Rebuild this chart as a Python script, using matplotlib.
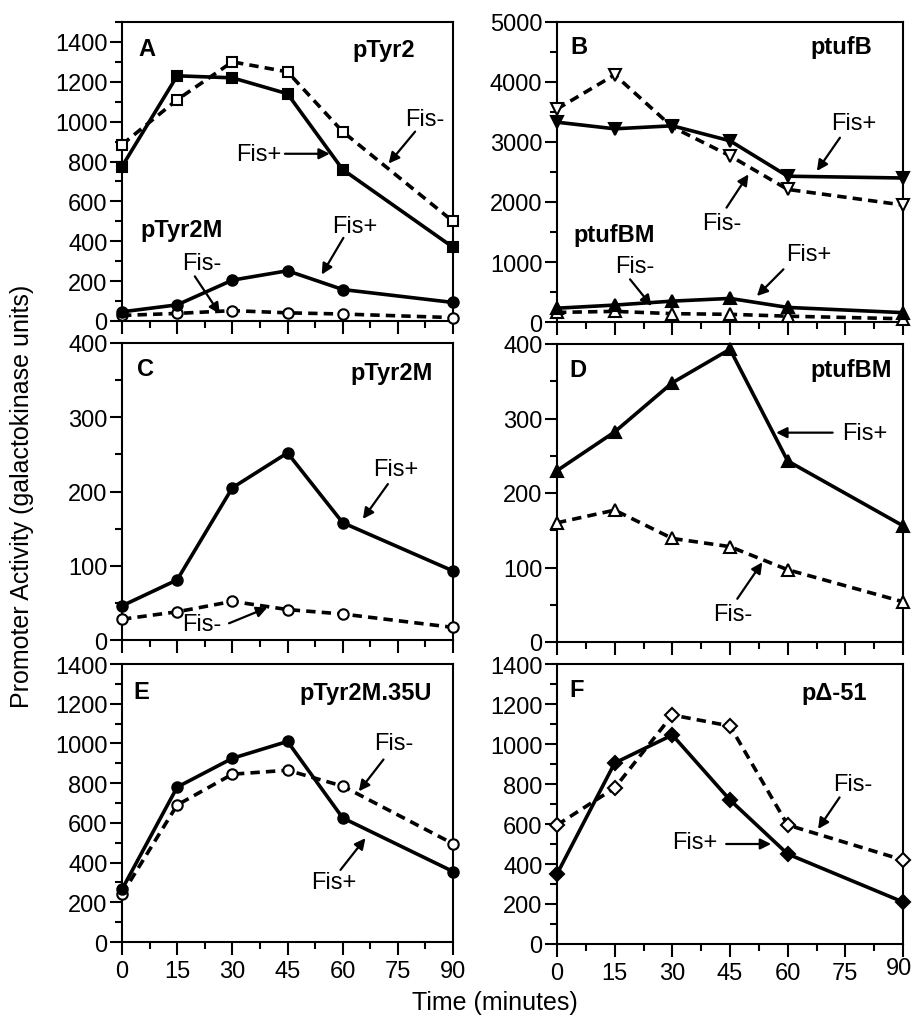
import matplotlib
matplotlib.use("Agg")
import matplotlib.pyplot as plt
from matplotlib.ticker import MultipleLocator

plt.rcParams['font.family'] = ['Liberation Sans', 'DejaVu Sans']

# ---- data ----
time_min = [0, 15, 30, 45, 60, 90]

ptyr2_fis_plus = [775, 1230, 1220, 1140, 760, 370]
ptyr2_fis_minus = [885, 1110, 1300, 1250, 950, 500]

ptyr2m_fis_plus = [46, 81, 205, 252, 158, 93]
ptyr2m_fis_minus = [28, 38, 52, 41, 35, 17]

ptufb_fis_plus = [3330, 3220, 3270, 3020, 2430, 2400]
ptufb_fis_minus = [3550, 4120, 3250, 2770, 2210, 1950]

ptufbm_fis_plus = [230, 282, 348, 393, 243, 156]
ptufbm_fis_minus = [160, 177, 139, 128, 97, 54]

ptyr2m35u_fis_plus = [265, 780, 925, 1010, 625, 355]
ptyr2m35u_fis_minus = [240, 690, 845, 865, 785, 495]

pdelta51_fis_plus = [350, 905, 1045, 720, 450, 210]
pdelta51_fis_minus = [595, 780, 1145, 1090, 595, 420]

x_ticks = [0, 15, 30, 45, 60, 75, 90]
x_tick_labels = ['0', '15', '30', '45', '60', '75', '90']

W, H = 913, 1020
fig = plt.figure(figsize=(W / 100, H / 100), dpi=100)

TICK_FS = 17
TXT_FS = 17
BOLD_FS = 17


def make_ax(x0, y0, x1, y1):
    ax = fig.add_axes([x0 / W, 1 - y1 / H, (x1 - x0) / W, (y1 - y0) / H])
    for s in ax.spines.values():
        s.set_linewidth(1.5)
    ax.set_xlim(0, 90)
    ax.set_xticks(x_ticks)
    ax.set_xticklabels(x_tick_labels)
    ax.xaxis.set_minor_locator(MultipleLocator(7.5))
    ax.tick_params(axis='both', which='major', direction='out', length=9, width=1.5,
                   labelsize=TICK_FS, pad=1.5)
    ax.tick_params(axis='both', which='minor', direction='out', length=5, width=1.5)
    ax.tick_params(axis='x', which='major', pad=4)
    ax.set_facecolor('white')
    return ax


LW = 2.6
DASH = (0, (2.6, 1.7))


def plot_pair(ax, yplus, yminus, mk, ms=7.5):
    ax.plot(time_min, yminus, linestyle=DASH, color='black', lw=LW, marker=mk,
            ms=ms, mfc='white', mec='black', mew=1.5, clip_on=False, zorder=3)
    ax.plot(time_min, yplus, linestyle='-', color='black', lw=LW, marker=mk,
            ms=ms, mfc='black', mec='black', mew=1.5, clip_on=False, zorder=4)


def arrow(ax, text, txy, tail, tip):
    ax.text(txy[0], txy[1], text, fontsize=TXT_FS, ha='center', va='center', zorder=6)
    ax.annotate('', xy=tip, xytext=tail,
                arrowprops=dict(arrowstyle='-|>', lw=1.6, color='black',
                                mutation_scale=16, shrinkA=0, shrinkB=0), zorder=6)


def labels(ax, letter, lxy, name, nxy):
    ax.text(lxy[0], lxy[1], letter, fontsize=BOLD_FS, fontweight='bold',
            ha='left', va='baseline')
    ax.text(nxy[0], nxy[1], name, fontsize=BOLD_FS, fontweight='bold',
            ha='right', va='baseline')


# ---- Panel A ----
axA = make_ax(122, 23, 453, 322)
axA.set_ylim(0, 1500)
axA.set_yticks(range(0, 1401, 200))
axA.yaxis.set_minor_locator(MultipleLocator(100))
plot_pair(axA, ptyr2_fis_plus, ptyr2_fis_minus, 's', ms=7.5)
plot_pair(axA, ptyr2m_fis_plus, ptyr2m_fis_minus, 'o', ms=7.5)
labels(axA, 'A', (4.4, 1335), 'pTyr2', (79.7, 1330))
axA.text(4.9, 426, 'pTyr2M', fontsize=BOLD_FS, fontweight='bold', ha='left', va='baseline')
arrow(axA, 'Fis-', (82.4, 1014), (79.7, 950), (72.5, 790))
arrow(axA, 'Fis+', (37.3, 839), (44.3, 839), (56.5, 839))
arrow(axA, 'Fis+', (63.3, 475), (60.2, 417), (54.3, 233))
arrow(axA, 'Fis-', (21.7, 289), (19.8, 224), (26.6, 36))
axA.tick_params(axis='x', labelbottom=False)

# ---- Panel B ----
axB = make_ax(557, 23, 903, 323)
axB.set_ylim(0, 5000)
axB.set_yticks(range(0, 5001, 1000))
axB.yaxis.set_minor_locator(MultipleLocator(500))
plot_pair(axB, ptufb_fis_plus, ptufb_fis_minus, 'v', ms=9)
plot_pair(axB, ptufbm_fis_plus, ptufbm_fis_minus, '^', ms=9)
labels(axB, 'B', (3.6, 4480), 'ptufB', (81.9, 4480))
axB.text(4.2, 1350, 'ptufBM', fontsize=BOLD_FS, fontweight='bold', ha='left', va='baseline')
arrow(axB, 'Fis+', (77.1, 3322), (73.6, 3072), (67.6, 2517))
arrow(axB, 'Fis-', (42.8, 1656), (44.1, 1906), (49.8, 2461))
arrow(axB, 'Fis-', (20.3, 933), (19.0, 711), (24.6, 267))
arrow(axB, 'Fis+', (65.4, 1128), (58.9, 878), (52.0, 433))
axB.tick_params(axis='x', labelbottom=False)

# ---- Panel C ----
axC = make_ax(122, 344, 453, 641)
axC.set_ylim(0, 400)
axC.set_yticks(range(0, 401, 100))
axC.yaxis.set_minor_locator(MultipleLocator(50))
plot_pair(axC, ptyr2m_fis_plus, ptyr2m_fis_minus, 'o', ms=7.5)
labels(axC, 'C', (4.0, 357), 'pTyr2M', (84.6, 351))
arrow(axC, 'Fis+', (74.5, 230), (72.3, 210), (65.5, 163))
arrow(axC, 'Fis-', (21.8, 21), (29.1, 22.5), (39.5, 43.6))
axC.tick_params(axis='x', labelbottom=False)

# ---- Panel D ----
axD = make_ax(557, 345, 903, 643)
axD.set_ylim(0, 400)
axD.set_yticks(range(0, 401, 100))
axD.yaxis.set_minor_locator(MultipleLocator(50))
plot_pair(axD, ptufbm_fis_plus, ptufbm_fis_minus, '^', ms=9)
labels(axD, 'D', (3.1, 357), 'ptufBM', (87.1, 357))
arrow(axD, 'Fis+', (80, 281), (71.7, 281), (57.0, 281))
arrow(axD, 'Fis-', (45.6, 38), (46.9, 58), (53.4, 107))
axD.tick_params(axis='x', labelbottom=False)

# ---- Panel E ----
axE = make_ax(122, 665, 453, 943)
axE.set_ylim(0, 1400)
axE.set_yticks(range(0, 1401, 200))
axE.yaxis.set_minor_locator(MultipleLocator(100))
plot_pair(axE, ptyr2m35u_fis_plus, ptyr2m35u_fis_minus, 'o', ms=7.5)
labels(axE, 'E', (3.0, 1229), 'pTyr2M.35U', (84.2, 1225))
arrow(axE, 'Fis-', (73.8, 1003), (71.1, 919), (64.4, 759))
arrow(axE, 'Fis+', (57.6, 304), (59.4, 363), (66.2, 523))

# ---- Panel F ----
axF = make_ax(557, 665, 903, 945)
axF.set_ylim(0, 1400)
axF.set_yticks(range(0, 1401, 200))
axF.yaxis.set_minor_locator(MultipleLocator(100))
# last tick label drawn separately so that it stays inside the figure edge
axF.set_xticklabels(x_tick_labels[:-1] + [''])
fig.text(899 / W, 1 - 958 / H, x_tick_labels[-1], ha='center', va='top', fontsize=TICK_FS)
plot_pair(axF, pdelta51_fis_plus, pdelta51_fis_minus, 'D', ms=7.5)
labels(axF, 'F', (3.1, 1242), 'p\u0394-51', (80.6, 1225))
arrow(axF, 'Fis-', (77, 800), (73.5, 733), (67.9, 575))
arrow(axF, 'Fis+', (35.8, 508), (44, 500), (55.7, 500))

fig.text(22 / W, 1 - 496 / H, 'Promoter Activity (galactokinase units)', rotation=90,
         ha='center', va='center', fontsize=18)
fig.text(495 / W, 1 - 1003 / H, 'Time (minutes)', ha='center', va='center', fontsize=18)

fig.savefig('out.png', dpi=100, facecolor='white')
